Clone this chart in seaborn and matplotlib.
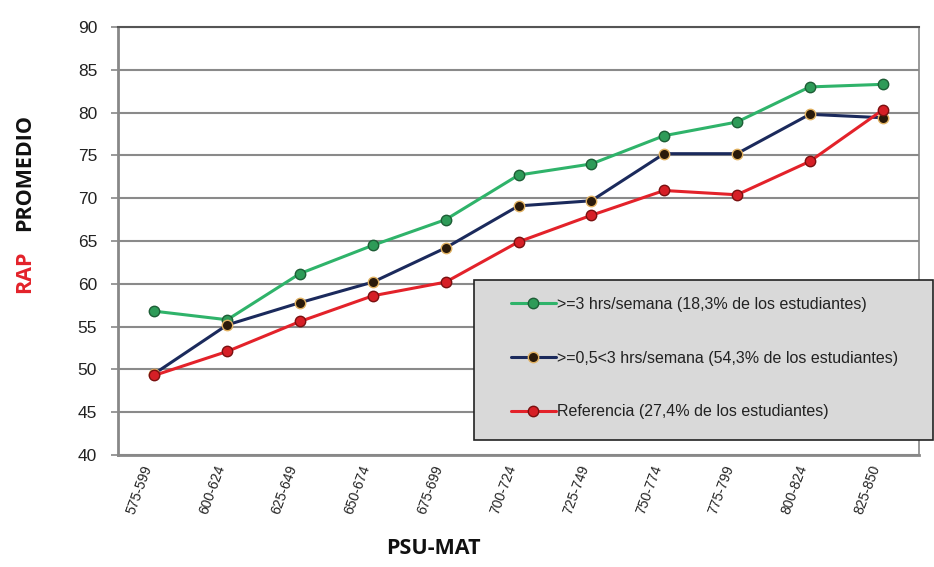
import matplotlib
matplotlib.use("Agg")
import matplotlib.pyplot as plt
from matplotlib.patches import Rectangle
import seaborn as sns
import pandas as pd
import numpy as np

categories = ["575-599", "600-624", "625-649", "650-674", "675-699", "700-724",
              "725-749", "750-774", "775-799", "800-824", "825-850"]
green_vals = [56.8, 55.8, 61.2, 64.5, 67.5, 72.7, 74.0, 77.3, 78.9, 83.0, 83.3]
navy_vals = [49.5, 55.2, 57.8, 60.2, 64.2, 69.1, 69.7, 75.2, 75.2, 79.8, 79.4]
red_vals = [49.3, 52.1, 55.6, 58.6, 60.2, 64.9, 68.0, 70.9, 70.4, 74.3, 80.3]
series_names = [">=3 hrs/semana (18,3% de los estudiantes)",
                ">=0,5<3 hrs/semana (54,3% de los estudiantes)",
                "Referencia (27,4% de los estudiantes)"]
yticks = [40, 45, 50, 55, 60, 65, 70, 75, 80, 85, 90]

sns.set_theme(style="white")
plt.rcParams['font.family'] = ['Liberation Sans', 'DejaVu Sans']

W, H = 934, 567
fig = plt.figure(figsize=(W/100, H/100), dpi=100)
ax = fig.add_axes([118/W, 1-455/H, (919-118)/W, (455-27)/H])

styles = [
    dict(color="#2fb36a", mfc="#2e9b58", mec="#1d5e36"),
    dict(color="#1b2a5c", mfc="#2a1a0a", mec="#e0b060"),
    dict(color="#e3222a", mfc="#d61f26", mec="#7a1010"),
]
x = np.arange(len(categories))
for name, vals, st in zip(series_names, [green_vals, navy_vals, red_vals], styles):
    df = pd.DataFrame({"x": x, "y": vals})
    sns.lineplot(data=df, x="x", y="y", ax=ax, color=st["color"], linewidth=2.2,
                 marker="o", markersize=7.5, markerfacecolor=st["mfc"],
                 markeredgecolor=st["mec"], markeredgewidth=1.0, label=name)

ax.set_xlim(-0.5, len(categories) - 0.5)
ax.set_ylim(40, 90)
ax.set_yticks(yticks)
ax.set_yticklabels([str(v) for v in yticks], fontsize=12.5, color="#222222")
ax.set_xticks(x)
ax.set_xticklabels(categories, rotation=70, fontsize=10, color="#222222",
                   ha="right", rotation_mode="default")
ax.tick_params(axis="x", length=0, pad=6)
ax.set_xticks(np.arange(len(categories) + 1) - 0.5, minor=True)
ax.tick_params(axis="x", which="minor", length=5, color="#888888", width=1.2, direction="out")
ax.tick_params(axis="y", length=5, color="#888888", width=1.2, direction="out", left=True, pad=10)
ax.yaxis.grid(True, color="#8a8a8a", linewidth=1.5)
ax.set_axisbelow(True)
for side in ["left", "bottom"]:
    ax.spines[side].set_color("#888888")
    ax.spines[side].set_linewidth(2)
ax.spines["top"].set_color("#555555")
ax.spines["top"].set_linewidth(1.5)
ax.spines["right"].set_color("#888888")
ax.spines["right"].set_linewidth(1.2)
ax.set_xlabel("")
ax.set_ylabel("")

fig.text(433/W, 1-549/H, "PSU-MAT", ha="center", va="center", fontsize=15.5,
         fontweight="bold", family=["Open Sans", "DejaVu Sans"], color="#111111")
fig.text(25/W, 1-173/H, "PROMEDIO", ha="center", va="center", rotation=90,
         fontsize=15.5, fontweight="bold", family=["Open Sans", "DejaVu Sans"], color="#111111")
fig.text(25/W, 1-272/H, "RAP", ha="center", va="center", rotation=90,
         fontsize=15.5, fontweight="bold", family=["Open Sans", "DejaVu Sans"], color="#e3222a")

# legend box (extends beyond the plot area as in the reference)
box = Rectangle((474/W, 1-440/H), (933-474)/W, (440-280)/H, transform=fig.transFigure,
                facecolor="#d9d9d9", edgecolor="#222222", linewidth=1.2, zorder=2)
fig.patches.append(box)

handles, labels = ax.get_legend_handles_labels()
ax.get_legend().remove()
leg = fig.legend(handles, labels, loc="upper left",
                 bbox_to_anchor=(511/W, 1-297/H), bbox_transform=fig.transFigure,
                 frameon=False, fontsize=11.5, labelspacing=2.42, handlelength=2.8,
                 handletextpad=0.05, borderpad=0, borderaxespad=0)
leg.set_zorder(3)
for t in leg.get_texts():
    t.set_color("#222222")

fig.savefig("out.png", dpi=100)
